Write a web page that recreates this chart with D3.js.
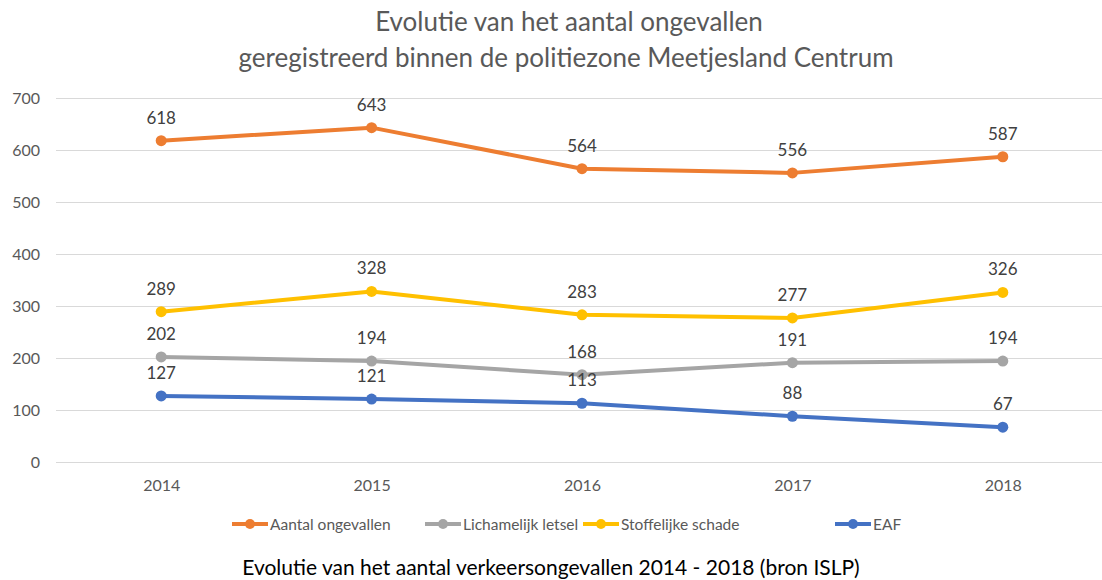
<!DOCTYPE html>
<html>
<head>
<meta charset="utf-8">
<script src="https://cdn.jsdelivr.net/npm/d3@7"></script>
<style>
  body { margin: 0; background: #fff; }
  text { font-family: Lato, "Open Sans", sans-serif; }
</style>
</head>
<body>
<svg></svg>
<script>
var years = ["2014", "2015", "2016", "2017", "2018"];
var seriesNames = ["Aantal ongevallen", "Lichamelijk letsel", "Stoffelijke schade", "EAF"];
var aantal = [618, 643, 564, 556, 587];
var letsel = [202, 194, 168, 191, 194];
var schade = [289, 328, 283, 277, 326];
var eaf = [127, 121, 113, 88, 67];
var yTicks = [0, 100, 200, 300, 400, 500, 600, 700];
var colors = ["#ED7D31", "#A5A5A5", "#FFC000", "#4472C4"];

var width = 1102;
var height = 580;

var series = [aantal, letsel, schade, eaf].map((vals, i) => ({
  name: seriesNames[i],
  color: colors[i],
  values: vals.map((v, j) => ({ year: years[j], value: v }))
}));

var svg = d3.select("svg").attr("width", width).attr("height", height);

var x = d3.scalePoint().domain(years).range([56, 1108]).padding(0.5);
var y = d3.scaleLinear().domain([0, 700]).range([462, 98]);

// titel
svg.append("text")
  .attr("x", 569).attr("y", 31)
  .attr("text-anchor", "middle")
  .attr("font-size", 26)
  .attr("fill", "#595959")
  .text("Evolutie van het aantal ongevallen");
svg.append("text")
  .attr("x", 566).attr("y", 67)
  .attr("text-anchor", "middle")
  .attr("font-size", 26)
  .attr("fill", "#595959")
  .text("geregistreerd binnen de politiezone Meetjesland Centrum");

// gridlijnen + y as
var yAxis = svg.append("g")
  .attr("transform", "translate(56,0)")
  .call(d3.axisLeft(y).tickValues(yTicks).tickSize(-(width - 56)).tickPadding(16));
yAxis.select(".domain").remove();
yAxis.selectAll(".tick line").attr("stroke", "#d9d9d9").attr("stroke-width", 1);
yAxis.selectAll(".tick text")
  .attr("fill", "#595959")
  .attr("font-size", 16)
  .style("font-family", "Lato, 'Open Sans', sans-serif");

// x as
var xAxis = svg.append("g")
  .attr("transform", "translate(0,462)")
  .call(d3.axisBottom(x).tickSize(0).tickPadding(18));
xAxis.select(".domain").remove();
xAxis.selectAll(".tick text")
  .attr("fill", "#595959")
  .attr("font-size", 16)
  .style("font-family", "Lato, 'Open Sans', sans-serif");

var line = d3.line().x((d) => x(d.year)).y((d) => y(d.value));

var groups = svg.selectAll(".serie")
  .data(series)
  .enter()
  .append("g")
  .classed("serie", true);

groups.append("path")
  .attr("fill", "none")
  .attr("stroke", (d) => d.color)
  .attr("stroke-width", 4)
  .attr("stroke-linejoin", "round")
  .attr("d", (d) => line(d.values));

groups.selectAll("circle")
  .data((d) => d.values.map((v) => ({ ...v, color: d.color })))
  .enter()
  .append("circle")
  .attr("cx", (d) => x(d.year))
  .attr("cy", (d) => y(d.value))
  .attr("r", 5.5)
  .attr("fill", (d) => d.color);

groups.selectAll(".label")
  .data((d) => d.values)
  .enter()
  .append("text")
  .classed("label", true)
  .attr("x", (d) => x(d.year))
  .attr("y", (d) => y(d.value) - 17)
  .attr("text-anchor", "middle")
  .attr("font-size", 17)
  .attr("fill", "#404040")
  .text((d) => d.value);

// legenda
var legendX = [232, 425, 583, 835];
var legend = svg.selectAll(".legend")
  .data(series)
  .enter()
  .append("g")
  .classed("legend", true)
  .attr("transform", (d, i) => `translate(${legendX[i]},524)`);
legend.append("line")
  .attr("x1", 0).attr("x2", 36)
  .attr("stroke", (d) => d.color)
  .attr("stroke-width", 4);
legend.append("circle")
  .attr("cx", 18).attr("r", 5)
  .attr("fill", (d) => d.color);
legend.append("text")
  .attr("x", 38).attr("y", 5.5)
  .attr("font-size", 15.5)
  .attr("fill", "#595959")
  .text((d) => d.name);

// onderschrift
svg.append("text")
  .attr("x", 551).attr("y", 575)
  .attr("text-anchor", "middle")
  .attr("font-size", 21)
  .attr("fill", "#000")
  .text("Evolutie van het aantal verkeersongevallen 2014 - 2018 (bron ISLP)");
</script>
</body>
</html>
